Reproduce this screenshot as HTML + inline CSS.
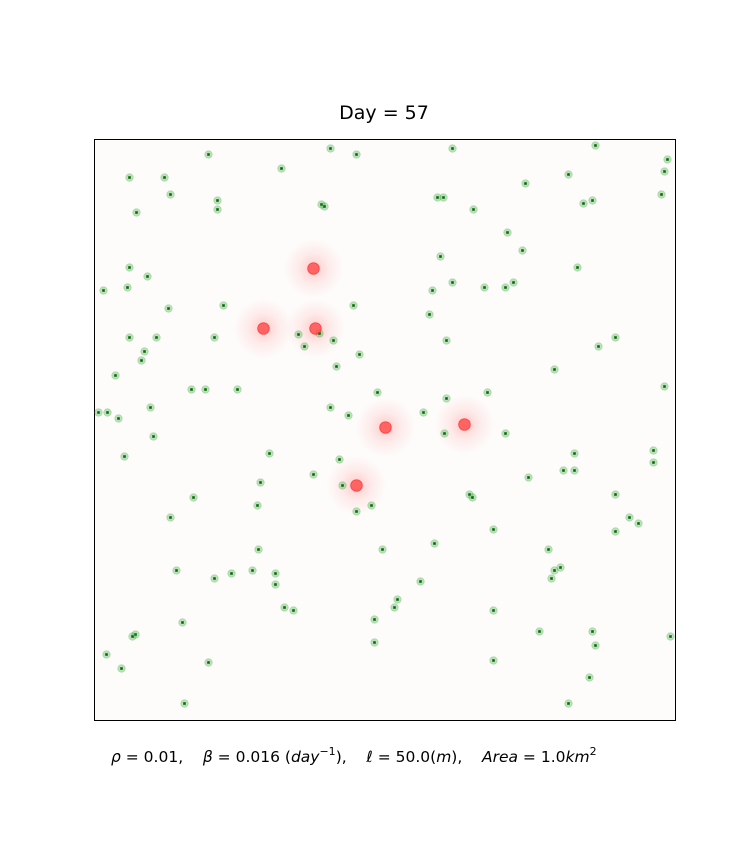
<!DOCTYPE html>
<html><head><meta charset="utf-8"><style>
html,body{margin:0;padding:0;background:#fff;}
svg{display:block;font-family:"DejaVu Sans","Liberation Sans",sans-serif;}
</style></head><body>
<svg id="chart" width="750" height="850" viewBox="0 0 750 850" xmlns="http://www.w3.org/2000/svg">
<defs>
<radialGradient id="halo">
<stop offset="0" stop-color="#ff0000" stop-opacity="0.2"/>
<stop offset="0.5" stop-color="#ff0000" stop-opacity="0.07"/>
<stop offset="1" stop-color="#ff0000" stop-opacity="0"/>
</radialGradient>
</defs>
<text x="384" y="119" text-anchor="middle" font-size="19" fill="#000">Day = 57</text>
<rect x="94.5" y="139.5" width="581" height="581" fill="#fdfcfb" stroke="#000" stroke-width="1"/>
<g id="halos"></g>
<g id="healthy"></g>
<g id="infected"></g>
<text x="111" y="762" font-size="15.5" fill="#000" style="white-space:pre" xml:space="preserve"><tspan font-style="italic">ρ</tspan> = 0.01,    <tspan font-style="italic">β</tspan> = 0.016 (<tspan font-style="italic">day</tspan><tspan font-size="11" dy="-7">−1</tspan><tspan dy="7">),    </tspan><tspan font-style="italic">ℓ</tspan> = 50.0(<tspan font-style="italic">m</tspan>),    <tspan font-style="italic">Area</tspan> = 1.0<tspan font-style="italic">km</tspan><tspan font-size="11" dy="-7">2</tspan></text>
</svg>
<script>
// positions in grid units (0..581 domain)
const healthyX = [114,236,262,358,501,573,35,70,187,474,570,76,123,227,230,343,349,431,489,498,567,42,123,379,413,428,346,35,483,53,9,33,358,390,419,411,338,129,74,259,335,35,62,120,204,225,239,352,521,504,210,50,47,265,21,242,460,97,111,143,283,393,570,352,56,4,13,24,236,254,329,59,350,411,30,175,245,480,559,559,219,469,480,434,166,248,99,375,378,521,163,277,262,535,544,76,521,399,340,164,288,454,82,158,181,137,120,466,460,457,181,326,303,300,190,199,399,88,280,445,498,41,38,576,280,501,12,114,399,27,495,90,474];
const healthyY = [566,572,566,572,575,561,543,543,552,546,549,526,520,516,514,523,523,537,517,520,526,508,511,511,488,470,464,453,453,444,430,433,438,433,438,433,430,415,412,415,406,383,383,383,386,387,380,380,383,374,374,369,360,366,345,354,351,331,331,331,328,328,334,322,313,308,308,302,313,305,308,284,287,287,264,267,261,267,270,258,246,250,250,243,238,235,223,226,223,226,215,215,209,203,197,203,189,191,177,171,171,171,150,150,147,147,142,153,150,142,136,139,121,113,113,110,110,98,101,89,89,86,84,84,78,75,66,58,60,52,43,17,17];
const infectedX = [219,169,221,291,370,262];
const infectedY = [452,392,392,293,296,235];
const domainMax = 581;
const L=94.5, T=139.5, W=581, H=581;
function sx(v){return L + v/domainMax*W;}
function sy(v){return T + H - v/domainMax*H;}
const NS="http://www.w3.org/2000/svg";
const gh=document.getElementById('halos'), gg=document.getElementById('healthy'), gi=document.getElementById('infected');
for(let i=0;i<healthyX.length;i++){
  const c=document.createElementNS(NS,'circle');
  c.setAttribute('cx',sx(healthyX[i]));c.setAttribute('cy',sy(healthyY[i]));c.setAttribute('r',3.8);
  c.setAttribute('fill','#2ca02c');c.setAttribute('fill-opacity','0.3');
  c.setAttribute('stroke','#2ca02c');c.setAttribute('stroke-opacity','0.25');c.setAttribute('stroke-width','0.8');
  
  
  gg.appendChild(c);
  const r=document.createElementNS(NS,'rect');
  r.setAttribute('x',sx(healthyX[i])-1.3);r.setAttribute('y',sy(healthyY[i])-1.3);r.setAttribute('width',2.6);r.setAttribute('height',2.6);
  r.setAttribute('fill','#0a6a0a');
  
  
  gg.appendChild(r);
}
for(let i=0;i<infectedX.length;i++){
  const h=document.createElementNS(NS,'circle');
  h.setAttribute('cx',sx(infectedX[i]));h.setAttribute('cy',sy(infectedY[i]));h.setAttribute('r',30);
  h.setAttribute('fill','url(#halo)');
  
  
  gh.appendChild(h);
  const c=document.createElementNS(NS,'circle');
  c.setAttribute('cx',sx(infectedX[i]));c.setAttribute('cy',sy(infectedY[i]));c.setAttribute('r',5.8);
  c.setAttribute('fill','#ff4040');c.setAttribute('fill-opacity','0.75');
  c.setAttribute('stroke','#ff2020');c.setAttribute('stroke-opacity','0.6');c.setAttribute('stroke-width','1');
  
  
  gi.appendChild(c);
}
</script>
</body></html>
